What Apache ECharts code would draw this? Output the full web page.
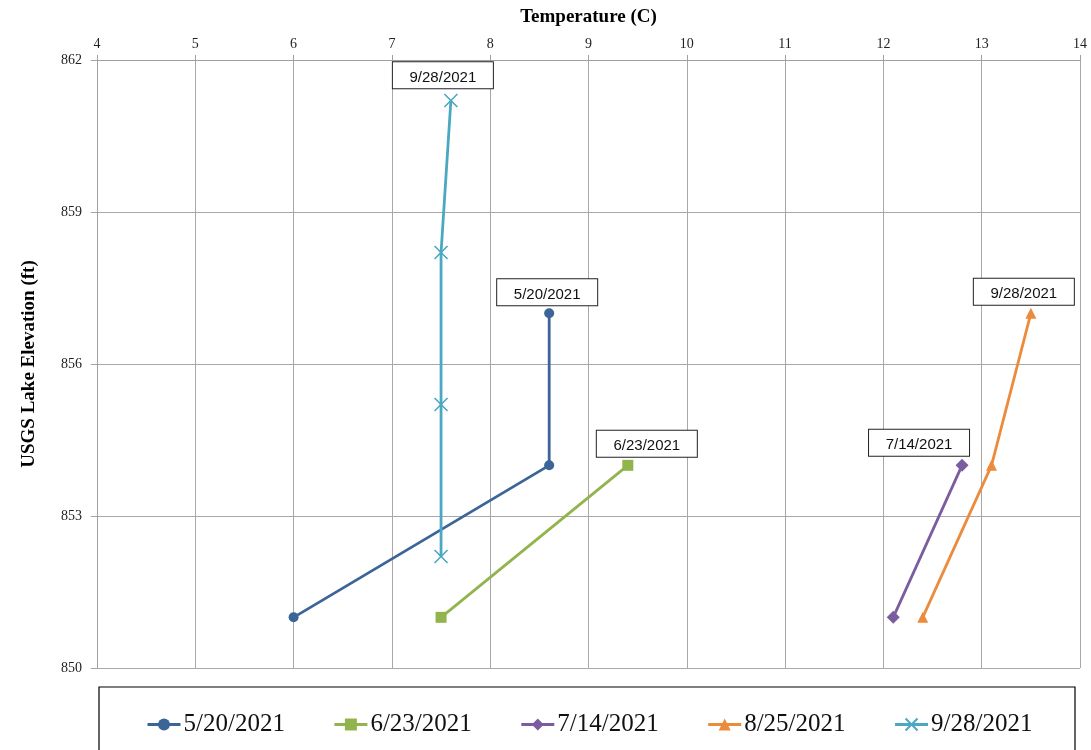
<!DOCTYPE html>
<html>
<head>
<meta charset="utf-8">
<script src="https://cdn.jsdelivr.net/npm/echarts@6/dist/echarts.min.js"></script>
<style>
  html, body { margin: 0; padding: 0; background: #fff; }
  #chart { width: 1091px; height: 750px; }
</style>
</head>
<body>
<div id="chart"></div>
<script>
// series names (dates of the profiles)
const seriesNames = ['5/20/2021', '6/23/2021', '7/14/2021', '8/25/2021', '9/28/2021']

// [temperature C, elevation ft]
const may20 = [[6, 851], [8.6, 854], [8.6, 857]]
const jun23 = [[7.5, 851], [9.4, 854]]
const jul14 = [[12.1, 851], [12.8, 854]]
const aug25 = [[12.4, 851], [13.1, 854], [13.5, 857]]
const sep28 = [[7.5, 852.2], [7.5, 855.2], [7.5, 858.2], [7.6, 861.2]]

// text of the box on the last point of each series (the orange one says 9/28 in the original)
const endLabels = ['5/20/2021', '6/23/2021', '7/14/2021', '9/28/2021', '9/28/2021']

const colors = ['#3b6597', '#92b44c', '#7b5c9f', '#ec8b3c', '#4aa8c0']
const symbols = ['circle', 'rect', 'diamond', 'triangle', 'path://M0,0L10,10M10,0L0,10']
const symbolSizes = [10, 11, 13, 11, 13]
const labelOffsets = [[-2, 2], [19, 2], [-43, 2], [-7, 2], [-8, 0]]

const allData = [may20, jun23, jul14, aug25, sep28]

const serif = '"Liberation Serif", "Times New Roman", serif'

const makeSeries = (data, i) => ({
  name: seriesNames[i],
  type: 'line',
  data: data.map((d, j) => {
    if (j !== data.length - 1) return d
    return {
      value: d,
      label: {
        show: true,
        position: 'top',
        offset: labelOffsets[i],
        formatter: endLabels[i],
        fontFamily: '"Liberation Sans", Arial, sans-serif',
        fontSize: 15,
        color: '#111',
        backgroundColor: '#fff',
        borderColor: '#222',
        borderWidth: 1,
        padding: [8, 12, 3, 12],
        width: 76,
        align: 'center'
      }
    }
  }),
  symbol: symbols[i],
  symbolSize: symbolSizes[i],
  showAllSymbol: true,
  lineStyle: { color: colors[i], width: 2.8 },
  itemStyle: {
    color: colors[i],
    borderColor: colors[i],
    borderWidth: i === 4 ? 1.6 : 0
  },
  emphasis: { disabled: true },
  animation: false,
  z: i === 4 ? 3 : 2
})

const chart = echarts.init(document.getElementById('chart'))

chart.setOption({
  animation: false,
  grid: { left: 97, right: 11, top: 60, bottom: 82, outerBoundsMode: 'none' },
  xAxis: {
    type: 'value',
    position: 'top',
    min: 4,
    max: 14,
    interval: 1,
    name: 'Temperature (C)',
    nameLocation: 'middle',
    nameGap: 33,
    nameTextStyle: { fontFamily: serif, fontSize: 19, fontWeight: 'bold', color: '#000' },
    axisLine: { show: true, lineStyle: { color: '#a0a0a0', width: 1 } },
    axisTick: { show: true, length: 5, lineStyle: { color: '#a0a0a0' } },
    axisLabel: { fontFamily: serif, fontSize: 14, color: '#222', margin: 9 },
    splitLine: { show: true, lineStyle: { color: '#a8a8a8', width: 1 } }
  },
  yAxis: {
    type: 'value',
    min: 850,
    max: 862,
    interval: 3,
    name: 'USGS Lake Elevation (ft)',
    nameLocation: 'middle',
    nameGap: 58,
    nameTextStyle: { fontFamily: serif, fontSize: 19, fontWeight: 'bold', color: '#000' },
    axisLine: { show: true, lineStyle: { color: '#a0a0a0', width: 1 } },
    axisTick: { show: true, length: 6, lineStyle: { color: '#a0a0a0' } },
    axisLabel: { fontFamily: serif, fontSize: 14, color: '#222', margin: 15 },
    splitLine: { show: true, lineStyle: { color: '#a8a8a8', width: 1 } }
  },
  legend: {
    left: 146,
    top: 712,
    padding: 0,
    itemWidth: 33,
    itemHeight: 15,
    itemGap: 48,
    selectedMode: false,
    lineStyle: { width: 3 },
    textStyle: { fontFamily: serif, fontSize: 25, color: '#111', padding: [0, 0, 0, -2] },
    data: seriesNames
  },
  graphic: [{
    type: 'rect',
    shape: { x: 99, y: 687, width: 976, height: 90 },
    style: { fill: 'none', stroke: '#000', lineWidth: 1.2 },
    silent: true
  }],
  series: allData.map(makeSeries)
})
</script>
</body>
</html>
